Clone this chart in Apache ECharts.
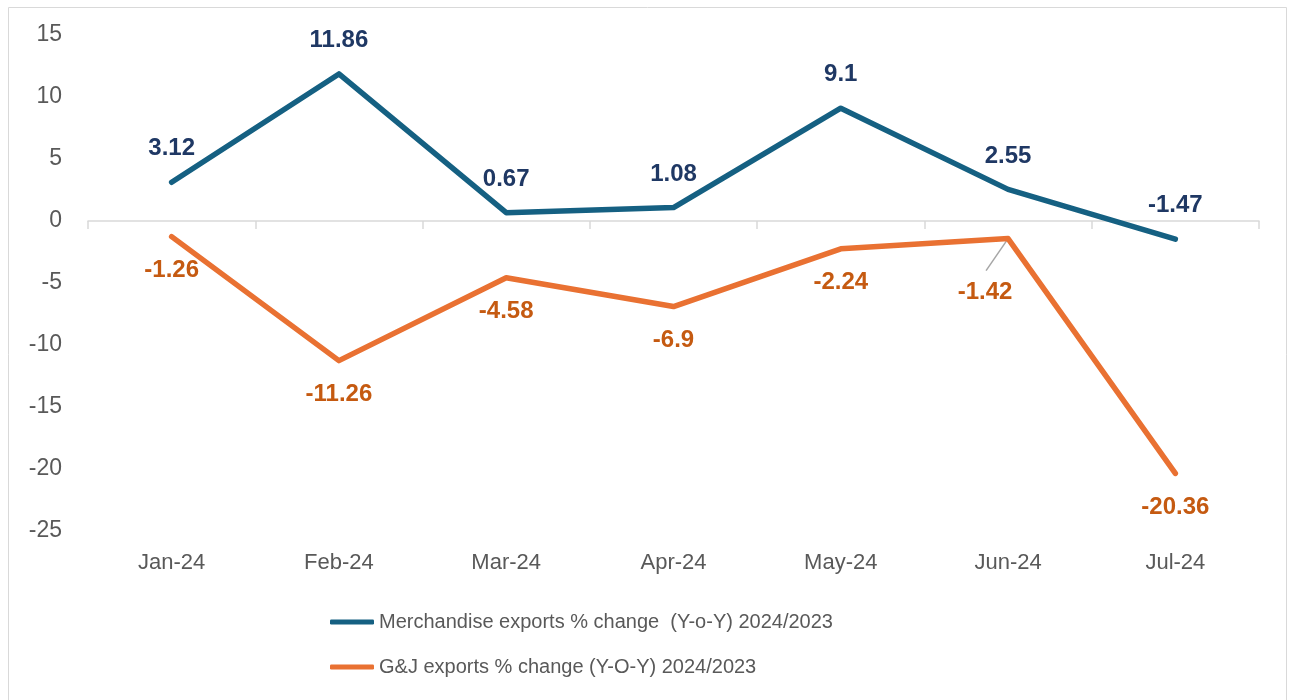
<!DOCTYPE html>
<html><head><meta charset="utf-8">
<script src="https://cdn.jsdelivr.net/npm/echarts@6/dist/echarts.min.js"></script>
<style>html,body{margin:0;padding:0;background:#fff}#c{width:1293px;height:700px}</style>
</head><body><div id="c"></div>
<script>
const categories = ['Jan-24','Feb-24','Mar-24','Apr-24','May-24','Jun-24','Jul-24'];
const merchandise = [3.12, 11.86, 0.67, 1.08, 9.1, 2.55, -1.47];
const gj = [-1.26, -11.26, -4.58, -6.9, -2.24, -1.42, -20.36];
const seriesNames = ['Merchandise exports % change  (Y-o-Y) 2024/2023', 'G&J exports % change (Y-O-Y) 2024/2023'];

const chart = echarts.init(document.getElementById('c'));
const font = '"Liberation Sans", Arial, sans-serif';
const gjData = gj.map((v, i) => i === 5 ? {value: v, label: {offset: [-23, 20]}} : v);

chart.setOption({
  animation: false,
  grid: {left: 88, right: 34, top: 35, bottom: 169},
  legend: {
    orient: 'vertical', left: 325, top: 607, itemGap: 25,
    icon: 'roundRect', itemWidth: 44, itemHeight: 5,
    textStyle: {color: '#595959', fontSize: 20, fontFamily: font},
    data: seriesNames
  },
  xAxis: [{
    type: 'category', data: categories, boundaryGap: true,
    axisLine: {onZero: true, lineStyle: {color: '#d9d9d9', width: 1.5}},
    axisTick: {show: true, length: 8, lineStyle: {color: '#d9d9d9', width: 1.5}},
    axisLabel: {show: false}
  }, {
    type: 'category', data: categories, position: 'bottom', boundaryGap: true,
    axisLine: {show: false, onZero: false}, axisTick: {show: false},
    axisLabel: {color: '#595959', fontSize: 22, fontFamily: font, margin: 21}
  }],
  yAxis: {
    type: 'value', min: -25, max: 15, interval: 5,
    splitLine: {show: false}, axisLine: {show: false}, axisTick: {show: false},
    axisLabel: {color: '#595959', fontSize: 23, fontFamily: font, margin: 26}
  },
  series: [{
    name: seriesNames[0], type: 'line', data: merchandise,
    symbol: 'circle', symbolSize: 1, showSymbol: true,
    lineStyle: {color: '#156082', width: 5.5, cap: 'round', join: 'round'},
    itemStyle: {color: '#156082'},
    label: {show: true, position: 'top', distance: 21, color: '#1f3864', fontSize: 24, fontWeight: 'bold', fontFamily: font}
  }, {
    name: seriesNames[1], type: 'line', data: gjData,
    symbol: 'circle', symbolSize: 1, showSymbol: true,
    lineStyle: {color: '#e97132', width: 5.5, cap: 'round', join: 'round'},
    itemStyle: {color: '#e97132'},
    label: {show: true, position: 'bottom', distance: 21, color: '#c55a11', fontSize: 24, fontWeight: 'bold', fontFamily: font}
  }]
});

// leader line for the Jun-24 G&J label, anchored at the data point via the chart's own scales
const p = chart.convertToPixel({seriesIndex: 1}, [5, gj[5]]);
chart.setOption({
  graphic: [{type: 'rect', shape: {x: 8.5, y: 7.5, width: 1278, height: 700}, style: {fill: 'none', stroke: '#d9d9d9', lineWidth: 1}, z: -1},
    {type: 'line', shape: {x1: p[0], y1: p[1], x2: p[0] - 22, y2: p[1] + 32}, style: {stroke: '#a6a6a6', lineWidth: 1.5}, z: 1}]
});
</script></body></html>
